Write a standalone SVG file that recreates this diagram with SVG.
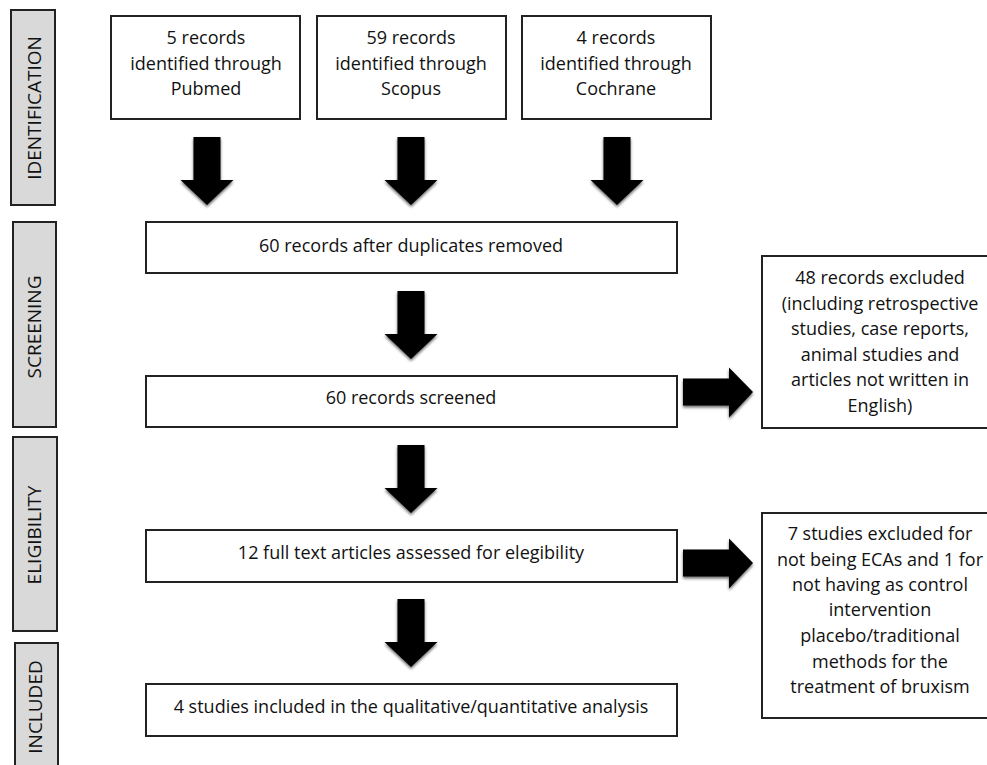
<svg xmlns="http://www.w3.org/2000/svg" width="987" height="765" viewBox="0 0 987 765">
<defs>
<style>
.box{fill:#fff;stroke:#222;stroke-width:2}
.side{fill:#d9d9d9;stroke:#222;stroke-width:2}
.t{font-family:"Open Sans","Liberation Sans",sans-serif;font-size:18px;fill:#111;text-anchor:middle}
.s{font-family:"Open Sans","Liberation Sans",sans-serif;font-size:19px;fill:#111;text-anchor:middle}
.arr{fill:#000;filter:url(#sh)}
</style>
<filter id="sh" x="-30%" y="-30%" width="160%" height="160%">
<feGaussianBlur in="SourceAlpha" stdDeviation="1.5"/>
<feOffset dx="0" dy="1.5" result="b"/>
<feComponentTransfer><feFuncA type="linear" slope="0.6"/></feComponentTransfer>
<feMerge><feMergeNode/><feMergeNode in="SourceGraphic"/></feMerge>
</filter>
<path id="down" d="M-13.5,0 H13.5 V43 H26.5 L0,68 L-26.5,43 H-13.5 Z"/>
<path id="right" d="M0,-13.5 H46 V-24.5 L70,0 L46,25.5 V13.5 H0 Z"/>
</defs>
<rect width="987" height="765" fill="#fff"/>

<g id="stage-identification"><rect class="side" x="11" y="10" width="44" height="195"/><text class="s" transform="translate(41,108) rotate(-90)">IDENTIFICATION</text></g>
<g id="stage-screening"><rect class="side" x="13" y="222" width="43" height="205"/><text class="s" transform="translate(41,327) rotate(-90)">SCREENING</text></g>
<g id="stage-eligibility"><rect class="side" x="13" y="437" width="44" height="194"/><text class="s" transform="translate(41,535) rotate(-90)">ELIGIBILITY</text></g>
<g id="stage-included"><rect class="side" x="15" y="643" width="43" height="130"/><text class="s" transform="translate(42,707) rotate(-90)">INCLUDED</text></g>

<g id="pubmed"><rect class="box" x="111" y="16" width="189" height="103"/><text class="t" x="206" y="44">5 records</text><text class="t" x="206" y="70">identified through</text><text class="t" x="206" y="95">Pubmed</text></g>
<g id="scopus"><rect class="box" x="317" y="16" width="189" height="103"/><text class="t" x="411" y="44">59 records</text><text class="t" x="411" y="70">identified through</text><text class="t" x="411" y="95">Scopus</text></g>
<g id="cochrane"><rect class="box" x="522" y="16" width="189" height="103"/><text class="t" x="616" y="44">4 records</text><text class="t" x="616" y="70">identified through</text><text class="t" x="616" y="95">Cochrane</text></g>

<g id="duplicates"><rect class="box" x="146" y="222" width="531" height="51"/><text class="t" x="411" y="252">60 records after duplicates removed</text></g>
<g id="screened"><rect class="box" x="146" y="376" width="531" height="51"/><text class="t" x="411" y="404">60 records screened</text></g>
<g id="excluded48"><rect class="box" x="762" y="256" width="230" height="172"/>
<text class="t" x="880" y="284">48 records excluded</text>
<text class="t" x="880" y="310">(including retrospective</text>
<text class="t" x="880" y="335">studies, case reports,</text>
<text class="t" x="880" y="361">animal studies and</text>
<text class="t" x="880" y="386">articles not written in</text>
<text class="t" x="880" y="412">English)</text></g>
<g id="fulltext"><rect class="box" x="146" y="530" width="531" height="52"/><text class="t" x="411" y="559">12 full text articles assessed for elegibility</text></g>
<g id="excluded7"><rect class="box" x="762" y="513" width="230" height="205"/>
<text class="t" x="880" y="540">7 studies excluded for</text>
<text class="t" x="880" y="566">not being ECAs and 1 for</text>
<text class="t" x="880" y="591">not having as control</text>
<text class="t" x="880" y="616">intervention</text>
<text class="t" x="880" y="642">placebo/traditional</text>
<text class="t" x="880" y="668">methods for the</text>
<text class="t" x="880" y="693">treatment of bruxism</text></g>
<g id="included"><rect class="box" x="146" y="684" width="531" height="52"/><text class="t" x="411" y="713">4 studies included in the qualitative/quantitative analysis</text></g>

<g id="connectors">
<use class="arr" href="#down" x="207" y="137"/>
<use class="arr" href="#down" x="411" y="137"/>
<use class="arr" href="#down" x="617" y="137"/>
<use class="arr" href="#down" x="411" y="291"/>
<use class="arr" href="#down" x="411" y="445"/>
<use class="arr" href="#down" x="411" y="599"/>
<use class="arr" href="#right" x="683" y="392"/>
<use class="arr" href="#right" x="683" y="563"/>
</g>
</svg>
